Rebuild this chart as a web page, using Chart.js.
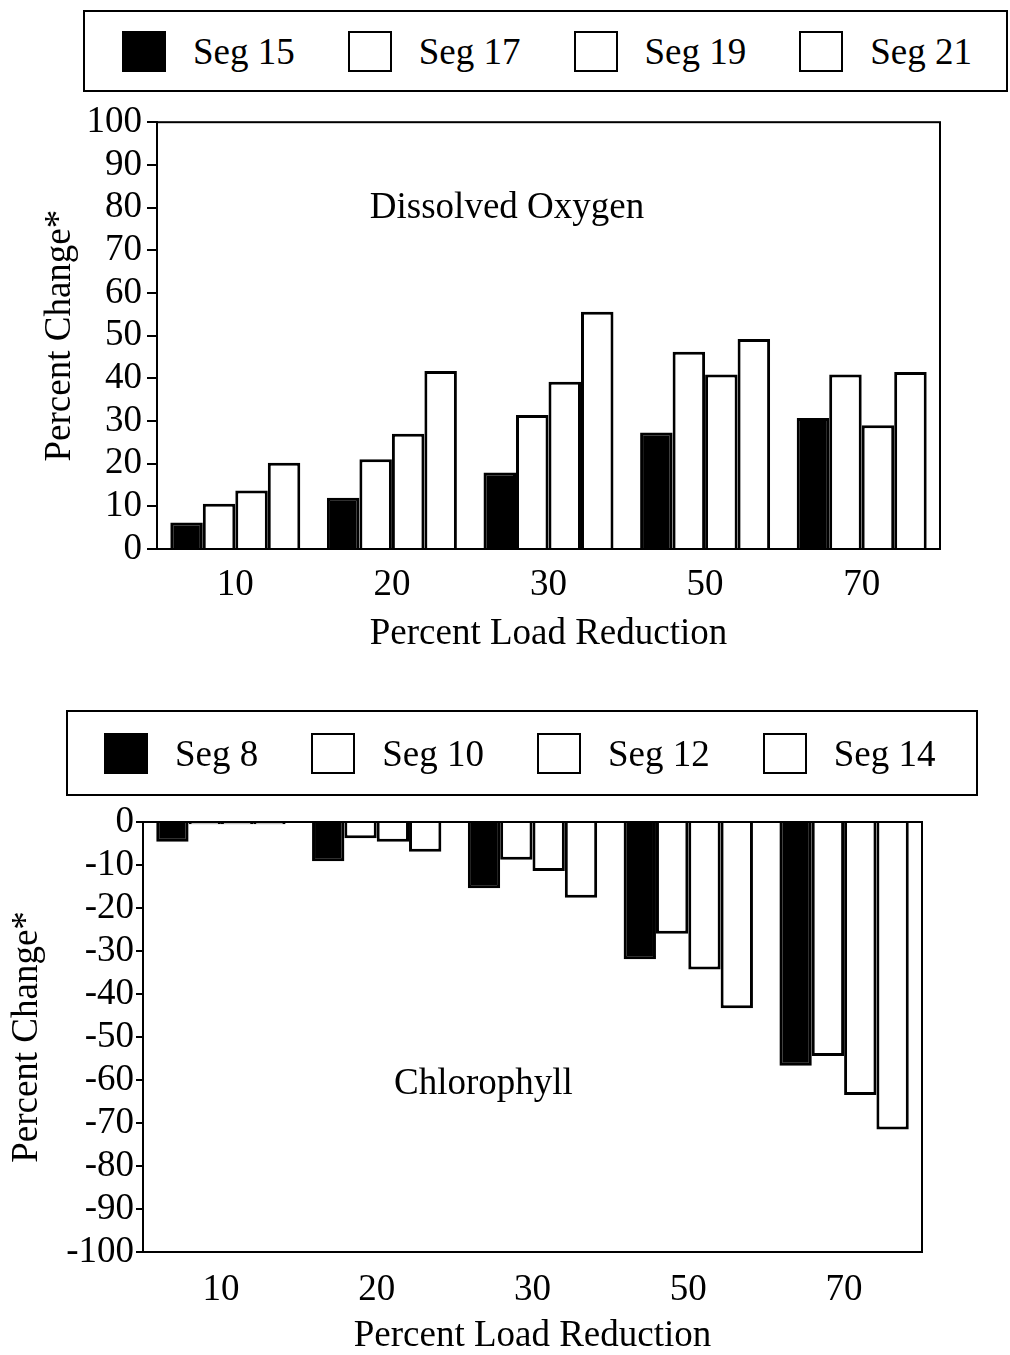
<!DOCTYPE html>
<html>
<head>
<meta charset="utf-8">
<script src="https://cdn.jsdelivr.net/npm/chart.js@4.4.1/dist/chart.umd.min.js"></script>
<style>
  html, body { margin: 0; padding: 0; background: #fff; }
  body { width: 1010px; height: 1355px; position: relative; overflow: hidden;
         font-family: 'Liberation Serif', 'Times New Roman', serif; }
  .legend { position: absolute; box-sizing: border-box; border: 2px solid #000;
            display: flex; align-items: center; background: transparent; z-index: 2; overflow: hidden; }
  .legend .item { display: flex; align-items: center; margin-right: 53px; flex: none; white-space: nowrap; }
  .legend .swatch { box-sizing: border-box; width: 44px; height: 41px; border: 2.5px solid #000;
                    margin-right: 27px; flex: none; }
  .legend .label { font-size: 37px; line-height: 1; color: #000; white-space: nowrap; }
  .wrap { position: absolute; left: 0; }
</style>
</head>
<body>
<div id="legendDO" class="legend" style="left:83px; top:10px; width:925px; height:82px; padding-left:37px;"></div>
<div class="wrap" style="top:95px;"><canvas id="chartDO" width="1010" height="570"></canvas></div>
<div id="legendCHL" class="legend" style="left:66px; top:710px; width:912px; height:86px; padding-left:36px;"></div>
<div class="wrap" style="top:790px;"><canvas id="chartCHL" width="1010" height="565"></canvas></div>
<script>
// Percent load reduction scenarios (x categories)
const loadReductions = ['10', '20', '30', '50', '70'];

// Dissolved oxygen: percent change by segment
const doSegNames = ['Seg 15', 'Seg 17', 'Seg 19', 'Seg 21'];
const doSeg15 = [6.2, 12.0, 17.9, 27.3, 30.7];
const doSeg17 = [10.6, 21.0, 31.4, 46.2, 40.9];
const doSeg19 = [13.7, 27.0, 39.2, 40.9, 29.0];
const doSeg21 = [20.2, 41.7, 55.6, 49.2, 41.5];

// Chlorophyll: percent change by segment
const chlSegNames = ['Seg 8', 'Seg 10', 'Seg 12', 'Seg 14'];
const chlSeg8  = [-4.6, -9.1, -15.4, -31.9, -56.7];
const chlSeg10 = [-0.5, -3.8, -8.8, -26.0, -54.4];
const chlSeg12 = [-0.5, -4.6, -11.4, -34.3, -63.5];
const chlSeg14 = [-0.5, -6.9, -17.6, -43.3, -71.5];

// Value axis ranges: [min, max, step]
const doTicks = [0, 100, 10];
const chlTicks = [-100, 0, 10];

const SERIF = "'Liberation Serif', 'Times New Roman', serif";
const FONT_SIZE = 37;
const fills = ['#000000', '#ffffff', '#ffffff', '#ffffff'];

function makeDatasets(names, series) {
  return series.map((values, i) => ({
    label: names[i],
    data: values,
    backgroundColor: fills[i],
    borderColor: '#000',
    borderWidth: 3,
    borderSkipped: 'start',
    categoryPercentage: 0.83,
    barPercentage: 1.0
  }));
}

// Closed frame around the plot area
const framePlugin = {
  id: 'frame',
  afterDraw(chart) {
    const { ctx, chartArea: a } = chart;
    ctx.save();
    ctx.strokeStyle = '#000';
    ctx.lineWidth = 2;
    ctx.strokeRect(a.left, a.top, a.right - a.left, a.bottom - a.top);
    ctx.restore();
  }
};

// Panel caption placed inside the plot area
const captionPlugin = {
  id: 'caption',
  afterDraw(chart, args, opts) {
    if (!opts || !opts.text) return;
    const { ctx, chartArea: a, scales } = chart;
    const x = a.left + (a.right - a.left) * opts.xFrac;
    const y = scales.y.getPixelForValue(opts.yValue);
    ctx.save();
    ctx.fillStyle = '#000';
    ctx.font = FONT_SIZE + 'px ' + SERIF;
    ctx.textAlign = 'center';
    ctx.textBaseline = 'alphabetic';
    ctx.fillText(opts.text, x, y);
    ctx.restore();
  }
};

function buildLegend(chart, el) {
  chart.data.datasets.forEach(ds => {
    const item = document.createElement('div');
    item.className = 'item';
    const sw = document.createElement('div');
    sw.className = 'swatch';
    sw.style.background = ds.backgroundColor;
    const lb = document.createElement('span');
    lb.className = 'label';
    lb.textContent = ds.label;
    item.appendChild(sw);
    item.appendChild(lb);
    el.appendChild(item);
  });
}

function makeChart(canvasId, datasets, cfg) {
  return new Chart(document.getElementById(canvasId), {
    type: 'bar',
    data: { labels: loadReductions, datasets },
    plugins: [framePlugin, captionPlugin],
    options: {
      responsive: false,
      animation: false,
      devicePixelRatio: 1,
      layout: { padding: { top: cfg.padTop, right: cfg.padRight, bottom: 0, left: 0 } },
      plugins: {
        legend: { display: false },
        tooltip: { enabled: false },
        caption: cfg.caption
      },
      scales: {
        x: {
          afterFit(scale) { scale.height = cfg.xHeight; },
          grid: { display: true, drawOnChartArea: false, drawTicks: false, color: '#000', lineWidth: 2 },
          border: { display: true, color: '#000', width: 2 },
          ticks: { color: '#000', padding: cfg.xTickPad, font: { family: SERIF, size: FONT_SIZE }, maxRotation: 0, autoSkip: false },
          title: { display: true, text: 'Percent Load Reduction', color: '#000',
                   font: { family: SERIF, size: FONT_SIZE, lineHeight: 1 }, padding: { top: 0, bottom: cfg.xTitlePad } }
        },
        y: {
          min: cfg.ticks[0], max: cfg.ticks[1],
          afterFit(scale) { scale.width = cfg.yWidth; },
          grid: { display: true, drawOnChartArea: false, drawTicks: true, tickLength: cfg.tickLen, color: '#000', lineWidth: 2 },
          border: { display: true, color: '#000', width: 2 },
          ticks: { stepSize: cfg.ticks[2], autoSkip: false, color: '#000', padding: cfg.tickPad, font: { family: SERIF, size: FONT_SIZE } },
          title: { display: true, text: 'Percent Change*', color: '#000',
                   font: { family: SERIF, size: FONT_SIZE, lineHeight: 1.2 }, padding: { top: cfg.yTitlePad, bottom: 0 } }
        }
      }
    }
  });
}

const chartDO = makeChart('chartDO',
  makeDatasets(doSegNames, [doSeg15, doSeg17, doSeg19, doSeg21]),
  { padTop: 23, padRight: 70, xHeight: 116, xTickPad: 14, xTitlePad: 12, yWidth: 157, yTitlePad: 38,
    tickLen: 10, tickPad: 5,
    ticks: doTicks, caption: { text: 'Dissolved Oxygen', xFrac: 0.447, yValue: 77.5 } });

const chartCHL = makeChart('chartCHL',
  makeDatasets(chlSegNames, [chlSeg8, chlSeg10, chlSeg12, chlSeg14]),
  { padTop: 32, padRight: 88, xHeight: 103, xTickPad: 16, xTitlePad: 0, yWidth: 143, yTitlePad: 5,
    tickLen: 7, tickPad: 2,
    ticks: chlTicks, caption: { text: 'Chlorophyll', xFrac: 0.437, yValue: -63.3 } });

buildLegend(chartDO, document.getElementById('legendDO'));
buildLegend(chartCHL, document.getElementById('legendCHL'));
</script>
</body>
</html>
